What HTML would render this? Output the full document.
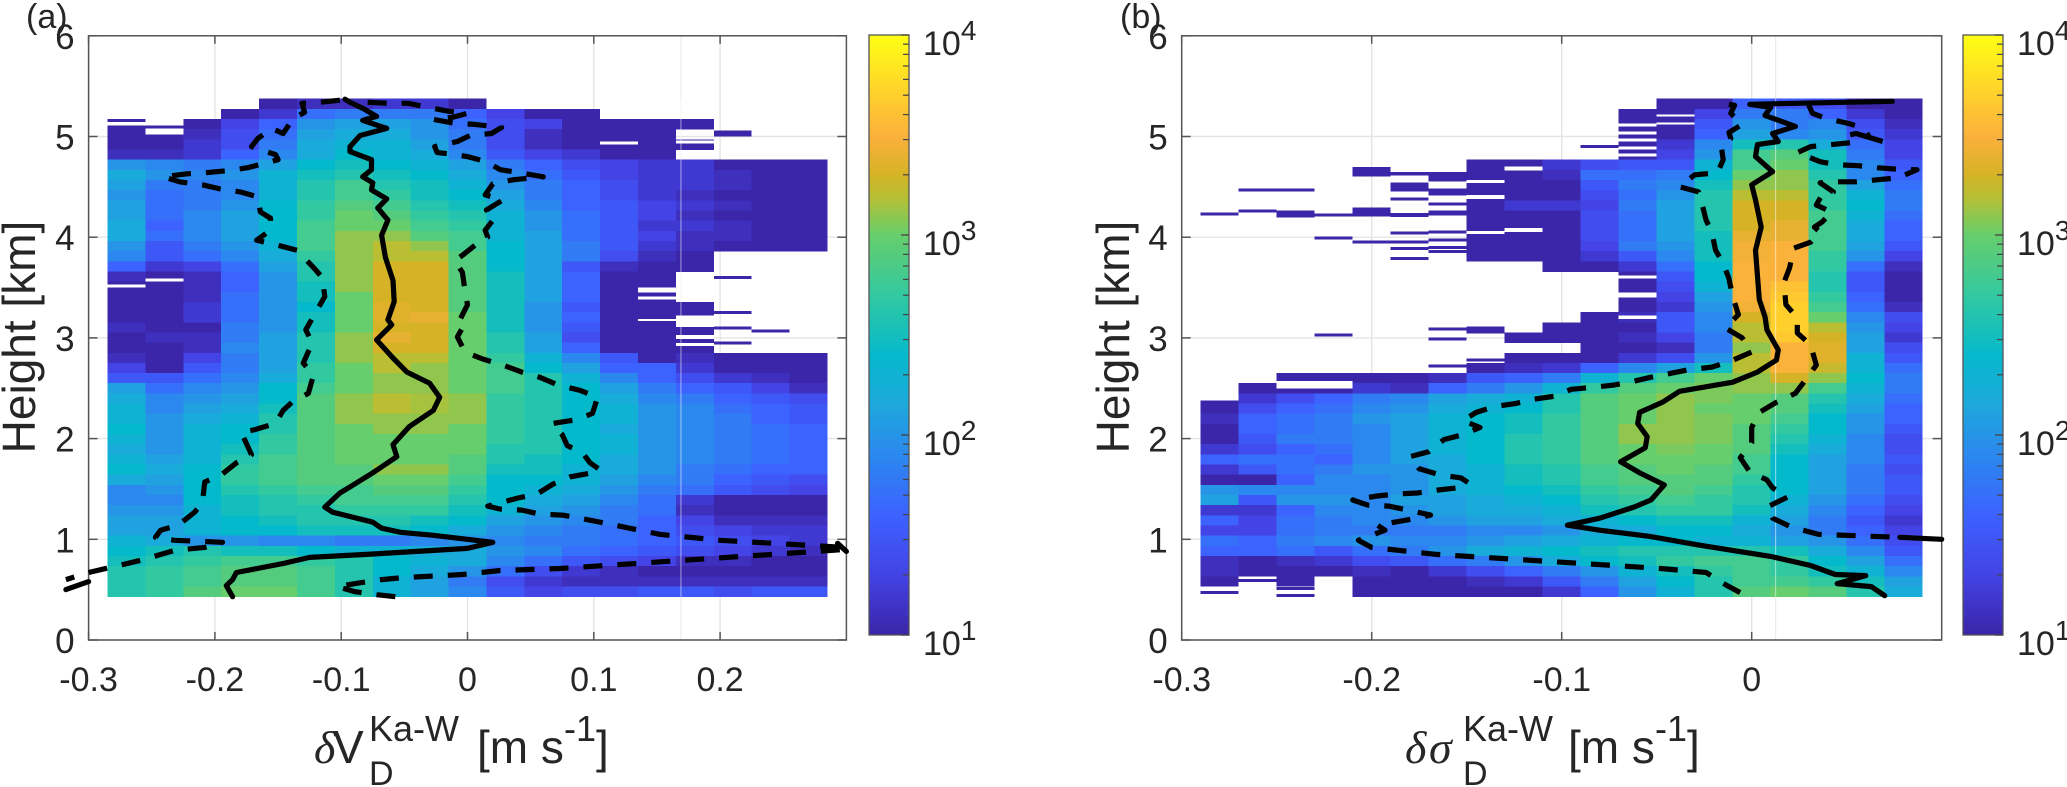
<!DOCTYPE html>
<html lang="en">
<head>
<meta charset="utf-8">
<title>Height profiles of Doppler differences</title>
<style>
html,body{margin:0;padding:0;background:#fff;}
svg{display:block;}
text{font-family:"Liberation Sans",sans-serif;fill:#262626;}
</style>
</head>
<body>
<svg id="chart" width="2067" height="787" viewBox="0 0 2067 787" xmlns="http://www.w3.org/2000/svg">
  <defs>
    <linearGradient id="cbar-gradient" x1="0" y1="1" x2="0" y2="0"></linearGradient>
  </defs>
  <g id="panel-a"></g>
  <g id="panel-b"></g>

  <text x="26" y="28" font-size="34">(a)</text>
  <text x="1120" y="28" font-size="34">(b)</text>

  <text transform="translate(35,337) rotate(-90)" text-anchor="middle" font-size="46">Height [km]</text>
  <text transform="translate(1129,337) rotate(-90)" text-anchor="middle" font-size="46">Height [km]</text>

  <g>
    <text x="314" y="763" font-size="46" style="font-family:'Liberation Serif',serif;font-style:italic;">δ</text>
    <text x="333" y="763" font-size="46">V</text>
    <text x="369" y="741" font-size="36">Ka-W</text>
    <text x="369" y="785" font-size="34">D</text>
    <text x="477" y="763" font-size="46">[m s</text>
    <text x="564" y="741" font-size="36">-1</text>
    <text x="596" y="763" font-size="46">]</text>
  </g>
  <g>
    <text x="1405" y="763" font-size="46" style="font-family:'Liberation Serif',serif;font-style:italic;">δ</text>
    <text x="1429" y="763" font-size="46" style="font-family:'Liberation Serif',serif;font-style:italic;">σ</text>
    <text x="1463" y="741" font-size="36">Ka-W</text>
    <text x="1463" y="785" font-size="34">D</text>
    <text x="1568" y="763" font-size="46">[m s</text>
    <text x="1655" y="741" font-size="36">-1</text>
    <text x="1687" y="763" font-size="46">]</text>
  </g>
</svg>

<script>
// ---------- shared axis data ----------
const heightTicks = [0, 1, 2, 3, 4, 5, 6];
const xTicksA = [-0.3, -0.2, -0.1, 0, 0.1, 0.2];
const xTicksB = [-0.3, -0.2, -0.1, 0];
const colorbarDecades = [1, 2, 3, 4];
const minorMultipliers = [2, 3, 4, 5, 6, 7, 8, 9];

// heatmap bins
const heightBinTop = 5.375;
const heightBinSize = 0.1009;
const firstBinA = -0.285;
const firstBinB = -0.29;
const binWidthA = 0.03;
const binWidthB = 0.02;

// colour scale (log10 count -> colour)
const colorLogs = [1, 1.3, 1.6, 1.9, 2.15, 2.4, 2.7, 3, 3.18, 3.3, 3.49, 3.72, 4];
const colorHex = ['#3b25a8', '#4343e6', '#3c62ff', '#2b88ee', '#1ea8dc', '#05b9cc', '#33c9a0', '#66ce6c', '#b4c036', '#d6b326', '#fbb03c', '#ffd32b', '#ffff14'];

// ---------- panel (a): log10 counts, top row = 5.3 km, bottom row = 0.5 km, 0 = empty ----------
const countsA = [
[0,0,0,0,1.0,1.1,1.1,1.2,1.2,1.0,0,0,0,0,0,0,0,0,0],
[0,0,0,1.0,1.2,1.7,1.8,1.8,1.8,1.6,1.3,1.0,1.0,0,0,0,0,0,0],
[0,0,1.0,1.3,1.6,2.0,2.1,2.1,2.0,1.7,1.4,1.3,1.0,1.0,1.0,1.0,0,0,0],
[1.0,1.0,1.1,1.4,1.7,2.1,2.2,2.2,2.0,1.8,1.4,1.1,1.0,1.0,1.0,0,0,0,0],
[1.0,1.0,1.2,1.4,1.8,2.2,2.3,2.3,2.1,1.8,1.4,1.1,1.0,1.0,1.0,1.0,0,0,0],
[1.1,1.1,1.2,1.6,1.9,2.2,2.4,2.3,2.2,1.9,1.5,1.3,1.2,1.0,1.0,0,0,0,0],
[2.0,1.9,1.8,1.9,2.1,2.4,2.5,2.4,2.3,2.1,1.8,1.6,1.4,1.3,1.2,1.2,1.0,1.0,1.0],
[2.2,2.0,1.9,2.0,2.3,2.5,2.6,2.5,2.4,2.2,1.9,1.7,1.5,1.3,1.2,1.2,1.1,1.0,1.0],
[2.1,1.8,1.8,1.9,2.3,2.6,2.8,2.6,2.5,2.3,2.0,1.8,1.6,1.4,1.2,1.2,1.1,1.0,1.0],
[2.0,1.7,1.8,1.9,2.3,2.6,2.8,2.7,2.5,2.4,2.1,1.8,1.6,1.4,1.2,1.1,1.0,1.0,1.0],
[2.1,1.7,1.8,2.0,2.4,2.7,2.9,2.8,2.6,2.5,2.2,1.9,1.6,1.5,1.3,1.2,1.1,1.0,1.0],
[2.1,1.7,1.9,2.1,2.4,2.7,3.0,2.9,2.7,2.6,2.3,2.0,1.7,1.5,1.3,1.1,1.0,1.0,1.0],
[2.2,1.6,1.9,2.1,2.4,2.8,3.0,3.0,2.8,2.7,2.3,2.0,1.7,1.5,1.2,1.2,1.1,1.0,1.0],
[2.2,1.7,1.9,2.1,2.4,2.8,3.1,3.1,2.9,2.8,2.3,2.1,1.7,1.5,1.3,1.1,1.1,1.0,1.0],
[2.0,1.5,1.8,2.0,2.3,2.8,3.1,3.2,3.1,2.8,2.4,2.1,1.8,1.5,1.2,1.1,1.0,1.0,1.0],
[1.9,1.5,1.7,1.9,2.2,2.7,3.1,3.2,3.2,2.9,2.4,2.1,1.8,1.4,1.1,1.0,0,0,0],
[1.6,1.2,1.3,1.7,2.1,2.6,3.1,3.3,3.3,2.9,2.4,2.1,1.5,1.1,1.0,1.0,0,0,0],
[1.1,1.0,1.1,1.6,2.0,2.6,3.1,3.3,3.3,2.9,2.5,2.1,1.6,1.0,1.0,0,0,0,0],
[1.0,1.0,1.1,1.6,2.0,2.5,3.1,3.3,3.3,2.9,2.5,2.1,1.6,1.0,1.0,0,0,0,0],
[1.0,1.0,1.1,1.7,2.0,2.5,3.0,3.3,3.3,2.9,2.5,2.1,1.6,1.0,1.0,0,0,0,0],
[1.0,1.0,1.2,1.7,2.0,2.4,3.0,3.35,3.3,2.9,2.5,2.0,1.5,1.0,1.0,1.0,0,0,0],
[1.0,1.0,1.2,1.7,2.0,2.5,3.0,3.35,3.4,3.0,2.5,2.0,1.6,1.0,1.0,1.0,0,0,0],
[1.1,1.0,1.0,1.8,2.0,2.5,3.0,3.3,3.3,3.0,2.5,2.0,1.5,1.0,1.0,1.0,0,0,0],
[1.0,1.1,1.1,1.8,2.1,2.6,3.1,3.4,3.3,3.0,2.6,2.1,1.4,1.0,1.0,1.0,0,0,0],
[1.0,1.0,1.1,1.9,2.1,2.6,3.1,3.3,3.3,3.0,2.6,2.1,1.6,1.0,1.0,1.0,0,0,0],
[1.1,1.0,1.3,1.8,2.1,2.6,3.1,3.2,3.2,3.0,2.7,2.3,1.9,1.5,1.0,1.1,1.0,1.0,1.0],
[1.3,1.0,1.5,1.8,2.1,2.7,3.0,3.2,3.1,3.0,2.8,2.4,2.1,1.6,1.6,1.2,1.0,1.0,1.0],
[1.5,1.5,1.7,1.9,2.2,2.7,3.0,3.1,3.1,3.0,2.8,2.6,2.3,1.9,1.6,1.4,1.2,1.1,1.0],
[2.1,1.7,1.9,2.0,2.4,2.8,3.0,3.1,3.1,3.0,2.8,2.6,2.4,2.1,1.8,1.6,1.5,1.3,1.1],
[2.2,1.9,2.0,2.1,2.4,2.9,3.1,3.2,3.15,3.1,2.7,2.6,2.4,2.2,1.9,1.8,1.6,1.5,1.4],
[2.3,1.9,2.1,2.2,2.5,2.9,3.1,3.2,3.15,3.1,2.7,2.6,2.4,2.3,2.0,1.9,1.7,1.6,1.5],
[2.3,2.0,2.2,2.3,2.6,2.9,3.1,3.1,3.1,3.1,2.7,2.6,2.4,2.3,2.0,1.9,1.8,1.6,1.5],
[2.4,2.0,2.3,2.4,2.6,2.9,3.0,3.1,3.1,3.0,2.7,2.6,2.4,2.2,2.0,1.9,1.8,1.7,1.6],
[2.3,2.0,2.3,2.4,2.7,2.9,3.0,3.0,3.0,3.0,2.7,2.6,2.4,2.3,2.0,1.9,1.8,1.7,1.6],
[2.2,2.0,2.3,2.5,2.7,2.9,3.0,3.0,3.0,3.0,2.6,2.6,2.4,2.3,2.0,1.9,1.8,1.7,1.6],
[2.3,2.1,2.3,2.6,2.8,2.9,3.0,3.0,3.0,2.9,2.6,2.5,2.4,2.2,2.0,1.9,1.8,1.7,1.6],
[2.4,2.2,2.4,2.7,2.8,2.9,2.9,3.1,3.1,2.9,2.5,2.5,2.3,2.2,2.0,1.8,1.7,1.6,1.6],
[2.2,2.1,2.4,2.7,2.8,2.9,2.9,3.0,3.0,2.8,2.4,2.4,2.3,2.1,1.9,1.8,1.6,1.5,1.4],
[1.9,2.0,2.4,2.6,2.7,2.8,2.8,2.9,2.9,2.7,2.4,2.3,2.2,2.0,1.8,1.7,1.5,1.4,1.3],
[1.9,1.9,2.4,2.5,2.6,2.7,2.8,2.8,2.8,2.6,2.4,2.2,2.1,1.9,1.7,1.2,1.0,1.0,1.0],
[2.0,2.0,2.3,2.5,2.6,2.6,2.7,2.7,2.7,2.5,2.3,2.1,2.0,1.8,1.7,1.1,1.0,1.0,1.0],
[2.1,2.1,2.3,2.4,2.5,2.6,2.6,2.6,2.5,2.4,2.1,2.0,1.9,1.8,1.6,1.3,1.1,1.1,1.1],
[2.1,2.1,2.3,2.4,2.4,2.5,2.5,2.5,2.4,2.2,2.0,1.9,1.8,1.7,1.6,1.4,1.3,1.2,1.2],
[2.3,2.2,2.0,2.0,1.9,1.9,1.8,1.8,1.9,2.0,1.9,1.8,1.8,1.7,1.6,1.5,1.4,1.3,1.2],
[2.4,2.5,2.6,2.5,2.5,2.4,2.3,2.3,2.2,2.2,2.0,1.9,1.7,1.6,1.5,1.4,1.3,1.2,1.1],
[2.5,2.6,2.7,2.8,2.8,2.7,2.6,2.4,2.3,2.2,1.9,1.7,1.5,1.4,1.3,1.1,1.1,1.0,1.0],
[2.6,2.7,2.8,2.9,2.9,2.8,2.6,2.4,2.2,2.0,1.7,1.4,1.2,1.1,1.0,1.0,1.0,1.0,1.0],
[2.6,2.7,2.8,2.9,2.9,2.8,2.6,2.3,2.1,1.8,1.4,1.2,1.1,1.1,1.1,1.1,1.1,1.1,1.1],
[2.6,2.7,2.9,3.0,3.0,2.8,2.6,2.3,2.1,1.9,1.5,1.3,1.4,1.4,1.5,1.5,1.4,1.5,1.5]
];
// isolated one-bin stripes: [column, height km, thickness km]
const stripesA = [[0,5.16,0.03],[0,5.09,0.04],[1,5.095,0.03],[15,5.13,0.03],[16,5.03,0.06],[16,3.25,0.03],[16,3.10,0.03],[17,3.07,0.03],[16,2.95,0.03],[16,3.6,0.03],[15,3.3,0.03]];
// empty bins inside filled regions: [column, upper km, lower km]
const gapsA = [[1,5.08,5.02],[0,3.53,3.50],[1,3.59,3.56],[13,4.95,4.92],[15,4.96,4.93],[14,3.50,3.45],[14,3.41,3.38],[14,3.19,3.17],[15,3.22,3.11],[15,3.03,2.99],[15,2.95,2.92]];

// percentile curves, panel (a): delta values and heights
const medianDeltaA = [-0.097,-0.093,-0.083,-0.072,-0.083,-0.064,-0.085,-0.093,-0.093,-0.076,-0.076,-0.083,-0.075,-0.076,-0.064,-0.071,-0.063,-0.068,-0.065,-0.059,-0.058,-0.063,-0.060,-0.072,-0.059,-0.048,-0.030,-0.022,-0.027,-0.046,-0.059,-0.056,-0.075,-0.093,-0.101,-0.113,-0.107,-0.075,-0.068,-0.053,-0.027,0.020,0,-0.080,-0.125,-0.146,-0.183,-0.186,-0.191,-0.186];
const medianHeightA = [5.37,5.34,5.28,5.20,5.16,5.08,5.01,4.90,4.85,4.77,4.67,4.60,4.54,4.47,4.38,4.29,4.17,4.02,3.80,3.57,3.36,3.18,3.13,2.98,2.80,2.66,2.55,2.41,2.28,2.12,1.94,1.82,1.66,1.52,1.46,1.32,1.27,1.17,1.11,1.07,1.04,0.97,0.91,0.85,0.82,0.76,0.67,0.60,0.54,0.43];
const lowDeltaA = [-0.101,-0.117,-0.131,-0.129,-0.138,-0.146,-0.155,-0.166,-0.171,-0.152,-0.150,-0.159,-0.174,-0.190,-0.208,-0.222,-0.241,-0.228,-0.210,-0.196,-0.180,-0.166,-0.164,-0.156,-0.156,-0.167,-0.150,-0.135,-0.122,-0.115,-0.113,-0.119,-0.128,-0.123,-0.130,-0.122,-0.126,-0.139,-0.146,-0.152,-0.168,-0.179,-0.171,-0.183,-0.196,-0.208,-0.210,-0.216,-0.229,-0.243,-0.247,-0.232,-0.194,-0.208,-0.232,-0.259,-0.283,-0.300,-0.318];
const lowHeightA = [5.36,5.34,5.33,5.24,5.18,5.03,5.08,4.98,4.90,4.82,4.77,4.74,4.69,4.66,4.64,4.63,4.60,4.55,4.52,4.48,4.45,4.40,4.25,4.19,4.07,3.97,3.92,3.87,3.70,3.60,3.41,3.28,3.08,2.95,2.75,2.63,2.45,2.36,2.28,2.15,2.09,2.06,1.84,1.76,1.63,1.57,1.36,1.27,1.14,1.09,1.02,0.99,0.97,0.92,0.89,0.79,0.72,0.67,0.60];
const highDeltaA = [-0.079,-0.063,-0.047,-0.031,-0.015,0,-0.012,-0.027,-0.010,0.006,0.027,0.019,0.002,-0.008,-0.026,-0.024,-0.016,0,0.015,0.026,0.036,0.060,0.052,0.036,0.020,0.014,0.028,0.015,0.022,0.014,0.016,0.008,-0.004,-0.010,-0.004,-0.002,0,-0.008,-0.004,-0.008,-0.002,0.012,0.028,0.043,0.057,0.072,0.089,0.103,0.099,0.087,0.067,0.075,0.079,0.091,0.097,0.105,0.099,0.081,0.068,0.055,0.040,0.016,0.026,0.043,0.057,0.075,0.089,0.105,0.152,0.200,0.299,0.300,0.145,0.073,0.026,0.011,-0.004,-0.020,-0.036,-0.051,-0.068,-0.084,-0.103,-0.089,-0.072,-0.057];
const highHeightA = [5.34,5.33,5.33,5.29,5.25,5.23,5.19,5.17,5.13,5.12,5.09,5.03,5.01,4.95,4.90,4.84,4.83,4.80,4.75,4.67,4.65,4.60,4.59,4.57,4.53,4.42,4.37,4.27,4.20,4.07,4.00,3.94,3.82,3.77,3.65,3.47,3.33,3.13,3.10,3.01,2.86,2.79,2.73,2.66,2.61,2.53,2.48,2.41,2.25,2.19,2.15,2.04,1.93,1.86,1.76,1.69,1.66,1.62,1.55,1.45,1.41,1.33,1.30,1.29,1.25,1.24,1.21,1.17,1.05,0.99,0.92,0.90,0.77,0.71,0.69,0.67,0.65,0.64,0.63,0.62,0.60,0.57,0.53,0.48,0.45,0.43];
const tailOneDeltaA = [-0.300,-0.318];
const tailOneHeightA = [0.58,0.50];
const tailTwoDeltaA = [0.293,0.300];
const tailTwoHeightA = [0.96,0.88];
const seamDeltaA = 0.169;

// ---------- panel (b) ----------
const countsB = [
[0,0,0,0,0,0,0,0,0,0,0,0,1.0,1.0,1.6,1.5,1.4,1.0,1.0],
[0,0,0,0,0,0,0,0,0,0,0,1.0,1.0,1.3,1.8,1.8,1.6,1.2,1.0],
[0,0,0,0,0,0,0,0,0,0,0,1.0,1.0,1.5,2.0,1.8,1.9,1.4,1.1],
[0,0,0,0,0,0,0,0,0,0,0,1.0,1.0,1.6,2.1,1.9,2.0,1.5,1.2],
[0,0,0,0,0,0,0,0,0,0,0,1.0,1.2,1.9,2.5,2.6,2.2,1.7,1.3],
[0,0,0,0,0,0,0,0,0,0,0,1.0,1.3,2.0,2.8,2.9,2.5,1.8,1.3],
[0,0,0,0,0,0,0,1.0,1.0,1.2,1.4,1.5,1.5,2.3,2.8,3.0,2.5,1.9,1.5],
[0,0,0,0,0,0,0,1.0,1.0,1.1,1.7,1.7,1.8,2.4,3.0,3.1,2.6,1.9,1.6],
[0,0,0,0,0,0,0,1.0,1.0,1.0,1.5,1.8,1.9,2.5,3.1,3.1,2.7,2.1,1.7],
[0,0,0,0,0,0,0,1.0,1.0,1.0,1.4,1.7,2.0,2.6,3.2,3.2,2.7,2.3,1.8],
[0,0,0,0,0,0,0,1.0,1.2,1.2,1.3,1.8,2.1,2.6,3.3,3.3,2.7,2.4,1.8],
[0,0,0,0,0,0,0,1.0,1.0,1.0,1.4,1.7,2.1,2.6,3.3,3.3,2.8,2.3,1.7],
[0,0,0,0,0,0,0,1.0,1.0,1.0,1.4,1.7,2.1,2.6,3.3,3.4,2.8,2.2,1.6],
[0,0,0,0,0,0,0,1.0,1.0,1.0,1.4,1.7,2.1,2.5,3.4,3.4,2.8,2.2,1.6],
[0,0,0,0,0,0,0,1.0,1.0,1.0,1.3,1.8,2.0,2.5,3.45,3.5,2.8,2.1,1.5],
[0,0,0,0,0,0,0,1.0,1.0,1.0,1.2,1.5,1.9,2.5,3.45,3.5,2.7,2.0,1.3],
[0,0,0,0,0,0,0,0,0,1.0,1.0,1.2,1.7,2.4,3.5,3.5,2.7,1.7,1.1],
[0,0,0,0,0,0,0,0,0,0,0,1.0,1.5,2.4,3.5,3.5,2.6,1.5,1.0],
[0,0,0,0,0,0,0,0,0,0,0,1.0,1.4,2.3,3.5,3.6,2.6,1.5,1.0],
[0,0,0,0,0,0,0,0,0,0,0,1.0,1.3,2.1,3.5,3.65,2.7,1.6,1.0],
[0,0,0,0,0,0,0,0,0,0,0,1.0,1.2,2.0,3.45,3.7,2.8,1.7,1.1],
[0,0,0,0,0,0,0,0,0,0,1.0,1.1,1.5,1.9,3.3,3.7,3.0,1.9,1.4],
[0,0,0,0,0,0,0,0,0,1.0,1.0,1.0,1.5,1.9,3.2,3.7,3.2,2.0,1.3],
[0,0,0,0,0,0,0,0,1.0,1.0,1.0,1.1,1.3,1.8,3.2,3.65,3.3,2.1,1.2],
[0,0,0,0,0,0,0,0,0,0,1.0,1.0,1.1,1.8,3.1,3.5,3.35,2.1,1.4],
[0,0,0,0,0,0,0,0,1.0,1.0,1.0,1.2,1.4,2.0,3.2,3.5,3.35,2.3,1.5],
[0,0,0,0,0,0,0,1.0,1.1,1.2,1.6,1.9,2.1,2.5,3.2,3.5,3.25,2.3,1.7],
[0,0,1.0,1.0,1.0,1.0,1.1,1.5,1.6,1.8,2.3,2.6,2.8,3.0,3.1,3.3,3.1,2.4,1.8],
[0,1.0,1.0,1.0,1.2,1.1,1.6,1.8,2.0,2.3,2.7,2.9,3.0,3.05,3.1,3.1,2.8,2.3,1.8],
[0,1.2,1.4,1.6,1.8,1.9,2.1,2.2,2.3,2.6,2.9,3.0,3.1,3.05,3.0,2.9,2.6,2.2,1.7],
[1.0,1.4,1.6,1.7,1.9,2.0,2.2,2.3,2.4,2.6,2.9,3.0,3.1,3.0,3.0,2.9,2.5,2.1,1.6],
[1.1,1.6,1.7,1.8,2.0,2.1,2.3,2.4,2.5,2.7,2.9,3.0,3.1,3.05,3.0,2.8,2.4,2.0,1.6],
[1.0,1.6,1.7,1.8,1.9,2.1,2.3,2.4,2.5,2.7,2.9,3.1,3.1,3.05,2.9,2.7,2.4,2.0,1.5],
[1.0,1.5,1.8,1.8,1.9,2.1,2.3,2.4,2.6,2.7,2.9,3.1,3.1,3.05,2.9,2.6,2.3,1.9,1.4],
[1.2,1.4,1.6,1.7,1.9,2.1,2.3,2.4,2.6,2.7,2.9,3.0,3.05,3.0,2.9,2.5,2.2,1.9,1.4],
[1.6,1.7,1.7,1.6,1.9,2.1,2.2,2.4,2.6,2.7,2.9,3.0,3.0,3.0,2.8,2.4,2.1,1.9,1.5],
[1.2,1.5,1.7,1.8,2.0,2.0,2.2,2.3,2.5,2.6,2.8,2.9,3.0,2.9,2.8,2.4,2.1,1.8,1.4],
[1.0,1.0,1.6,1.9,1.9,2.0,2.2,2.3,2.5,2.6,2.8,2.9,2.9,2.9,2.7,2.4,2.1,1.8,1.5],
[2.0,1.9,1.9,1.9,1.9,2.0,2.2,2.3,2.4,2.5,2.7,2.8,2.9,2.8,2.6,2.4,2.1,1.8,1.5],
[2.1,1.5,2.0,2.0,1.9,2.1,2.1,2.2,2.3,2.4,2.6,2.7,2.8,2.7,2.6,2.3,2.0,1.7,1.4],
[1.2,1.2,1.6,1.9,1.9,2.0,2.1,2.2,2.2,2.3,2.5,2.6,2.7,2.7,2.5,2.2,1.9,1.6,1.3],
[1.6,1.3,1.7,1.8,1.9,1.9,2.0,2.1,2.1,2.2,2.3,2.4,2.5,2.5,2.3,2.1,1.8,1.5,1.2],
[1.3,1.3,1.7,1.8,1.8,1.8,1.8,1.9,1.9,2.0,2.2,2.2,2.4,2.4,2.2,2.0,1.8,1.6,1.3],
[1.7,1.6,1.8,1.9,2.0,1.9,1.9,2.0,2.1,2.2,2.3,2.4,2.4,2.3,2.3,2.1,2.0,1.7,1.4],
[1.6,1.6,1.7,1.5,1.7,1.8,2.0,2.2,2.3,2.4,2.5,2.6,2.6,2.6,2.6,2.5,2.2,1.9,1.5],
[1.1,1.0,1.1,1.2,1.4,1.5,1.7,1.8,2.0,2.2,2.4,2.5,2.7,2.8,2.8,2.7,2.4,2.1,1.7],
[1.1,1.0,1.0,1.0,1.1,1.0,1.2,1.4,1.6,1.8,2.0,2.3,2.5,2.7,2.8,2.7,2.5,2.3,1.9],
[1.0,0,1.0,0,1.0,1.0,1.0,1.1,1.2,1.5,1.8,2.1,2.4,2.6,2.8,2.8,2.7,2.5,2.1],
[0,0,0,0,1.0,1.0,1.0,1.0,1.0,1.2,1.6,2.0,2.3,2.6,2.9,3.0,2.9,2.6,2.2]
];
const stripesB = [[0,4.23,0.03],[1,4.47,0.03],[1,4.26,0.03],[2,4.47,0.03],[2,4.23,0.07],[3,4.22,0.03],[3,3.99,0.03],[4,4.65,0.09],[4,4.25,0.09],[4,3.95,0.03],[5,4.63,0.03],[5,4.5,0.09],[5,4.38,0.03],[5,4.22,0.04],[5,4.04,0.03],[5,3.95,0.03],[5,3.89,0.03],[5,3.79,0.03],[6,4.6,0.09],[6,4.45,0.07],[6,4.33,0.03],[6,4.24,0.05],[6,4.05,0.03],[6,3.97,0.03],[6,3.9,0.03],[6,3.86,0.03],[3,3.03,0.03],[6,3.09,0.03],[6,2.99,0.03],[6,2.72,0.03],[7,3.08,0.07],[7,2.78,0.03],[7,2.72,0.03],[0,0.47,0.03],[1,0.59,0.03],[2,0.51,0.03],[2,0.44,0.03],[3,0.66,0.03],[10,4.9,0.03],[0,2.365,0.03]];
const gapsB = [[2,2.57,2.50],[3,2.57,2.50],[7,4.57,4.54],[7,4.42,4.38],[7,4.06,4.03],[8,4.70,4.66],[8,4.09,4.05],[11,5.13,5.10],[11,5.05,5.02],[11,4.98,4.95],[11,4.90,4.87],[11,4.83,4.80],[12,5.22,5.20],[12,5.14,5.12],[11,3.62,3.59],[11,3.45,3.40],[11,3.22,3.19]];

const medianDeltaB = [0.074,-0.001,0.010,0.007,0.023,0.011,0.014,0.003,0.002,0.011,0,0.002,0.005,0.002,0.004,0.007,0.008,0.014,0.013,0.003,-0.010,-0.038,-0.047,-0.059,-0.060,-0.055,-0.056,-0.069,-0.059,-0.046,-0.053,-0.062,-0.080,-0.097,-0.080,-0.054,-0.027,0.010,0.031,0.044,0.060,0.045,0.063,0.070];
const medianHeightB = [5.35,5.32,5.29,5.21,5.10,5.03,4.95,4.92,4.80,4.65,4.52,4.37,4.10,3.87,3.38,3.21,3.08,2.88,2.78,2.66,2.56,2.47,2.36,2.26,2.15,2.02,1.91,1.77,1.66,1.54,1.39,1.32,1.21,1.14,1.09,1.03,0.94,0.83,0.74,0.65,0.64,0.56,0.53,0.44];
const lowDeltaB = [-0.012,-0.009,-0.011,-0.005,-0.012,-0.011,-0.016,-0.015,-0.018,-0.030,-0.038,-0.028,-0.026,-0.024,-0.021,-0.019,-0.015,-0.012,-0.010,-0.007,-0.014,-0.005,0,-0.011,-0.021,-0.034,-0.042,-0.053,-0.062,-0.073,-0.083,-0.095,-0.104,-0.115,-0.124,-0.135,-0.145,-0.152,-0.143,-0.152,-0.162,-0.170,-0.180,-0.175,-0.164,-0.153,-0.149,-0.155,-0.165,-0.176,-0.187,-0.197,-0.210,-0.202,-0.191,-0.181,-0.169,-0.176,-0.188,-0.197,-0.193,-0.207,-0.200,-0.166,-0.124,-0.089,-0.048,-0.024,-0.013,-0.003];
const lowHeightB = [5.32,5.31,5.23,5.12,5.04,4.98,4.90,4.77,4.64,4.62,4.50,4.45,4.32,4.17,4.05,3.87,3.74,3.59,3.41,3.23,3.10,3.00,2.86,2.77,2.71,2.68,2.65,2.61,2.57,2.53,2.51,2.49,2.42,2.39,2.35,2.32,2.26,2.18,2.11,2.04,1.99,1.87,1.82,1.70,1.64,1.61,1.56,1.51,1.49,1.46,1.45,1.43,1.39,1.34,1.33,1.29,1.24,1.21,1.17,1.14,1.09,0.99,0.92,0.85,0.80,0.76,0.71,0.67,0.54,0.44];
const highDeltaB = [0.030,0.032,0.039,0.051,0.059,0.062,0.069,0.055,0.050,0.053,0.042,0.031,0.024,0.036,0.045,0.056,0.066,0.080,0.087,0.077,0.066,0.055,0.044,0.036,0.043,0.037,0.034,0.042,0.037,0.033,0.036,0.031,0.022,0.020,0.017,0.018,0.024,0.024,0.031,0.034,0.029,0.023,0.013,0.004,0,0,-0.006,-0.001,0.008,0.011,0.019,0.008,0.011,0.021,0.035,0.063,0.078];
const highHeightB = [5.31,5.23,5.18,5.13,5.08,4.99,4.95,5.03,5.01,4.94,4.92,4.90,4.84,4.75,4.72,4.71,4.69,4.67,4.67,4.59,4.57,4.55,4.55,4.54,4.45,4.42,4.32,4.25,4.15,4.10,4.05,3.95,3.89,3.70,3.55,3.33,3.20,3.05,2.93,2.73,2.60,2.45,2.36,2.26,2.11,1.96,1.81,1.67,1.59,1.51,1.42,1.32,1.21,1.12,1.05,1.03,1.02];
const tailOneDeltaB = [0.078,0.100];
const tailOneHeightB = [1.02,1.00];
const seamDeltaB = 0.0126;

// ---------- scales ----------
const yScale = h => 640 - h * 100.7;
const xScaleA = d => 467.5 + d * 1263;
const xScaleB = d => 1751.7 + d * 1900;
const cbarScale = l => 635 - (l - 1) * 200;

const SVGNS = 'http://www.w3.org/2000/svg';
function make(tag, attrs, parent) {
  const el = document.createElementNS(SVGNS, tag);
  for (const k in attrs) el.setAttribute(k, attrs[k]);
  parent.appendChild(el);
  return el;
}
function hexToRgb(h) {
  return [parseInt(h.slice(1,3),16), parseInt(h.slice(3,5),16), parseInt(h.slice(5,7),16)];
}
function colorFor(v) {
  if (v <= colorLogs[0]) return colorHex[0];
  for (let i = 1; i < colorLogs.length; i++) {
    if (v <= colorLogs[i]) {
      const t = (v - colorLogs[i-1]) / (colorLogs[i] - colorLogs[i-1]);
      const a = hexToRgb(colorHex[i-1]), b = hexToRgb(colorHex[i]);
      return 'rgb(' + a.map((c, j) => Math.round(c + (b[j] - c) * t)).join(',') + ')';
    }
  }
  return colorHex[colorHex.length - 1];
}
function pathFrom(deltas, heights, xs) {
  return deltas.map((d, i) => (i ? 'L' : 'M') + xs(d).toFixed(1) + ' ' + yScale(heights[i]).toFixed(1)).join(' ');
}

function drawPanel(cfg) {
  const g = document.getElementById(cfg.id);
  const xs = cfg.xs;
  const L = xs(cfg.xMin), R = xs(cfg.xMax), T = yScale(6), B = yScale(0);

  // grid
  cfg.xTicks.forEach(v => {
    const line = make('line', {x1: xs(v), x2: xs(v), y1: T, y2: B, stroke: '#e4e4e4', 'stroke-width': 1.4}, g);
    
    
  });
  heightTicks.forEach(h => {
    const line = make('line', {x1: L, x2: R, y1: yScale(h), y2: yScale(h), stroke: '#e4e4e4', 'stroke-width': 1.4}, g);
    
    
  });
  const seamUnder = make('line', {x1: xs(cfg.seam), x2: xs(cfg.seam), y1: T, y2: B, stroke: '#e9e9e9', 'stroke-width': 1}, g);
  
  

  // heatmap
  const heat = make('g', {'shape-rendering': 'crispEdges'}, g);
  
  
  cfg.counts.forEach((row, r) => {
    const hTop = heightBinTop - r * heightBinSize;
    const hBot = hTop - heightBinSize;
    row.forEach((v, c) => {
      if (!v) return;
      const d0 = cfg.firstBin + c * cfg.binWidth;
      const d1 = d0 + cfg.binWidth;
      const cell = make('rect', {x: xs(d0), y: yScale(hTop), width: xs(d1) - xs(d0), height: yScale(hBot) - yScale(hTop) + 0.3, fill: colorFor(v)}, heat);
      
      
    });
  });
  cfg.gaps.forEach(gap => {
    const d0 = cfg.firstBin + gap[0] * cfg.binWidth;
    const w = make('rect', {x: xs(d0), y: yScale(gap[1]), width: xs(d0 + cfg.binWidth) - xs(d0), height: yScale(gap[2]) - yScale(gap[1]), fill: '#ffffff'}, heat);
    
    
  });
  cfg.stripes.forEach(s => {
    const d0 = cfg.firstBin + s[0] * cfg.binWidth;
    const w = make('rect', {x: xs(d0), y: yScale(s[1] + s[2] / 2), width: xs(d0 + cfg.binWidth) - xs(d0), height: s[2] * 100.7, fill: colorHex[0]}, heat);
    
    
  });
  const seamOver = make('line', {x1: xs(cfg.seam), x2: xs(cfg.seam), y1: yScale(5.375), y2: yScale(0.43), stroke: 'rgba(255,255,255,0.55)', 'stroke-width': 1}, g);
  
  

  // axes box and ticks
  const box = make('rect', {x: L, y: T, width: R - L, height: B - T, fill: 'none', stroke: '#555555', 'stroke-width': 1.5}, g);
  
  
  cfg.xTicks.forEach(v => {
    const t1 = make('line', {x1: xs(v), x2: xs(v), y1: B, y2: B - 8, stroke: '#555555', 'stroke-width': 1.5}, g);
    
    
    const t2 = make('line', {x1: xs(v), x2: xs(v), y1: T, y2: T + 8, stroke: '#555555', 'stroke-width': 1.5}, g);
    
    
    const lab = make('text', {x: xs(v), y: 691, 'text-anchor': 'middle', 'font-size': 34}, g);
    
    
    lab.textContent = String(v);
  });
  heightTicks.forEach(h => {
    const t1 = make('line', {x1: L, x2: L + 9, y1: yScale(h), y2: yScale(h), stroke: '#555555', 'stroke-width': 1.5}, g);
    
    
    const t2 = make('line', {x1: R, x2: R - 9, y1: yScale(h), y2: yScale(h), stroke: '#555555', 'stroke-width': 1.5}, g);
    
    
    const lab = make('text', {x: L - 14, y: yScale(h) + 13, 'text-anchor': 'end', 'font-size': 35}, g);
    
    
    lab.textContent = String(h);
  });

  // curves
  const common = {fill: 'none', stroke: '#000000', 'stroke-width': 5.2, 'stroke-linejoin': 'round'};
  const median = make('path', Object.assign({d: pathFrom(cfg.medianD, cfg.medianH, xs), 'stroke-linecap': 'round'}, common), g);
  
  
  const low = make('path', Object.assign({d: pathFrom(cfg.lowD, cfg.lowH, xs), 'stroke-dasharray': '19 15'}, common), g);
  
  
  const high = make('path', Object.assign({d: pathFrom(cfg.highD, cfg.highH, xs), 'stroke-dasharray': '19 15'}, common), g);
  
  
  cfg.tails.forEach(tail => {
    const t = make('path', Object.assign({d: pathFrom(tail[0], tail[1], xs), 'stroke-linecap': 'round'}, common), g);
    
    
  });

  // colour bar
  const cb = make('rect', {x: cfg.cbarX, y: cbarScale(4), width: 40, height: cbarScale(1) - cbarScale(4), fill: 'url(#cbar-gradient)', stroke: '#555555', 'stroke-width': 1.3}, g);
  
  
  colorbarDecades.forEach(dec => {
    const lab = make('text', {x: cfg.cbarX + 54, y: cbarScale(dec) + 20, 'font-size': 34}, g);
    
    
    lab.textContent = '10';
    const sup = make('tspan', {dy: -15, 'font-size': 28}, lab);
    sup.textContent = String(dec);
    if (dec < 4) {
      minorMultipliers.forEach(m => {
        const yy = cbarScale(dec + Math.log10(m));
        const t = make('line', {x1: cfg.cbarX + 40, x2: cfg.cbarX + 34, y1: yy, y2: yy, stroke: '#444444', 'stroke-width': 1.2}, g);
        
        
      });
    }
    const major = make('line', {x1: cfg.cbarX + 40, x2: cfg.cbarX + 32, y1: cbarScale(dec), y2: cbarScale(dec), stroke: '#444444', 'stroke-width': 1.3}, g);
    
    
  });
}

// gradient built from the colour scale
const grad = document.getElementById('cbar-gradient');
colorLogs.forEach((l, i) => {
  make('stop', {offset: ((l - 1) / 3 * 100).toFixed(2) + '%', 'stop-color': colorHex[i]}, grad);
});

drawPanel({
  id: 'panel-a', xs: xScaleA, xMin: -0.3, xMax: 0.3, xTicks: xTicksA, seam: seamDeltaA,
  counts: countsA, firstBin: firstBinA, binWidth: binWidthA, gaps: gapsA, stripes: stripesA,
  medianD: medianDeltaA, medianH: medianHeightA, lowD: lowDeltaA, lowH: lowHeightA, highD: highDeltaA, highH: highHeightA,
  tails: [[tailOneDeltaA, tailOneHeightA], [tailTwoDeltaA, tailTwoHeightA]], cbarX: 869
});
drawPanel({
  id: 'panel-b', xs: xScaleB, xMin: -0.3, xMax: 0.1, xTicks: xTicksB, seam: seamDeltaB,
  counts: countsB, firstBin: firstBinB, binWidth: binWidthB, gaps: gapsB, stripes: stripesB,
  medianD: medianDeltaB, medianH: medianHeightB, lowD: lowDeltaB, lowH: lowHeightB, highD: highDeltaB, highH: highHeightB,
  tails: [[tailOneDeltaB, tailOneHeightB]], cbarX: 1963
});
</script>
</body>
</html>
